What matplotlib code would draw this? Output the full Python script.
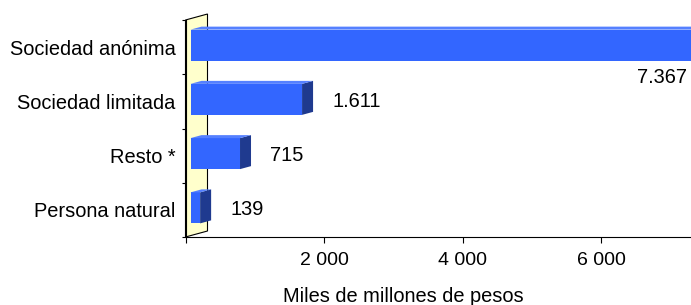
import matplotlib
matplotlib.use('Agg')
import matplotlib.pyplot as plt
from matplotlib.patches import Polygon

# fuente tipo Arial
plt.rcParams['font.family'] = ['Liberation Sans', 'DejaVu Sans']
plt.rcParams['font.size'] = 14.4

# datos (miles de millones de pesos)
categorias = ['Persona natural', 'Resto *', 'Sociedad limitada', 'Sociedad anónima']
valores = [139, 715, 1611, 7367]
etiquetas = ['139', '715', '1.611', '7.367']
ticks_x = [0, 2000, 4000, 6000]

W, H = 691, 305
fig = plt.figure(figsize=(W / 100, H / 100), dpi=100)
x0, y0 = 185.5, 68          # origen del eje en pixeles
ax_w, ax_h = W - x0, 217
ax = fig.add_axes([x0 / W, y0 / H, ax_w / W, ax_h / H])

xmax = ax_w / 69.25 * 1000
ax.set_xlim(0, xmax)
ax.set_ylim(-0.5, len(categorias) - 0.5)

# conversion pixel -> unidades de datos
px_x = xmax / ax_w
px_y = len(categorias) / ax_h

# pared del fondo (efecto 3D)
prof_x, prof_y = 22 * px_x, 6 * px_y
pared = Polygon([(0, -0.5), (0, 3.5), (prof_x, 3.5 + prof_y), (prof_x, -0.5 + prof_y)],
                closed=True, facecolor='#FFFFCC', edgecolor='black', lw=0.8,
                clip_on=False, zorder=1)
ax.add_patch(pared)

# barras con caras frontal, lateral y superior
L = 5 * px_x
alto = 31 * px_y
dy0 = 2 * px_y
sx, sy = 11 * px_x, 3 * px_y
ys = [i + dy0 for i in range(len(categorias))]
ax.barh(ys, valores, left=L, height=alto, color='#3366FF', zorder=3)
for y, v in zip(ys, valores):
    yb, yt = y - alto / 2, y + alto / 2
    lado = Polygon([(L + v, yb), (L + v, yt), (L + v + sx, yt + sy), (L + v + sx, yb + sy)],
                   closed=True, facecolor='#1F3A8F', edgecolor='none', zorder=3)
    techo = Polygon([(L, yt), (L + v, yt), (L + v + sx, yt + sy), (L + sx, yt + sy)],
                    closed=True, facecolor='#5580FF', edgecolor='none', zorder=3)
    ax.add_patch(lado)
    ax.add_patch(techo)

# etiquetas de valores (la que no cabe va debajo de la barra)
for i, (v, t) in enumerate(zip(valores, etiquetas)):
    if L + v + 30 * px_x + 50 * px_x < xmax:
        ax.annotate(t, (L + v, i), xytext=(30 * 0.72, 0), textcoords='offset points',
                    ha='left', va='center', annotation_clip=False)
    else:
        ax.annotate(t, (L + v, i), xytext=(-64 * 0.72, -30 * 0.72), textcoords='offset points',
                    ha='left', va='center', annotation_clip=False)

# ejes
ax.spines['top'].set_visible(False)
ax.spines['right'].set_visible(False)
ax.spines['left'].set_linewidth(0.8)
ax.spines['bottom'].set_linewidth(0.8)
ax.spines['left'].set_zorder(2)

ax.set_yticks(range(len(categorias)))
ax.set_yticklabels(categorias)
ax.set_yticks([i - 0.5 for i in range(len(categorias) + 1)], minor=True)
ax.tick_params(axis='y', which='major', length=0, pad=7)
ax.tick_params(axis='y', which='minor', length=3, width=0.8, direction='out')

ax.set_xticks(ticks_x)
ax.set_xticklabels(['' if t == 0 else f'{t:,}'.replace(',', ' ') for t in ticks_x], fontsize=14)
ax.tick_params(axis='x', length=4, width=0.8, direction='out', pad=7)

fig.text(403 / W, 3 / H, 'Miles de millones de pesos', ha='center', va='baseline', fontsize=14.4)

fig.savefig('out.png', dpi=100)
